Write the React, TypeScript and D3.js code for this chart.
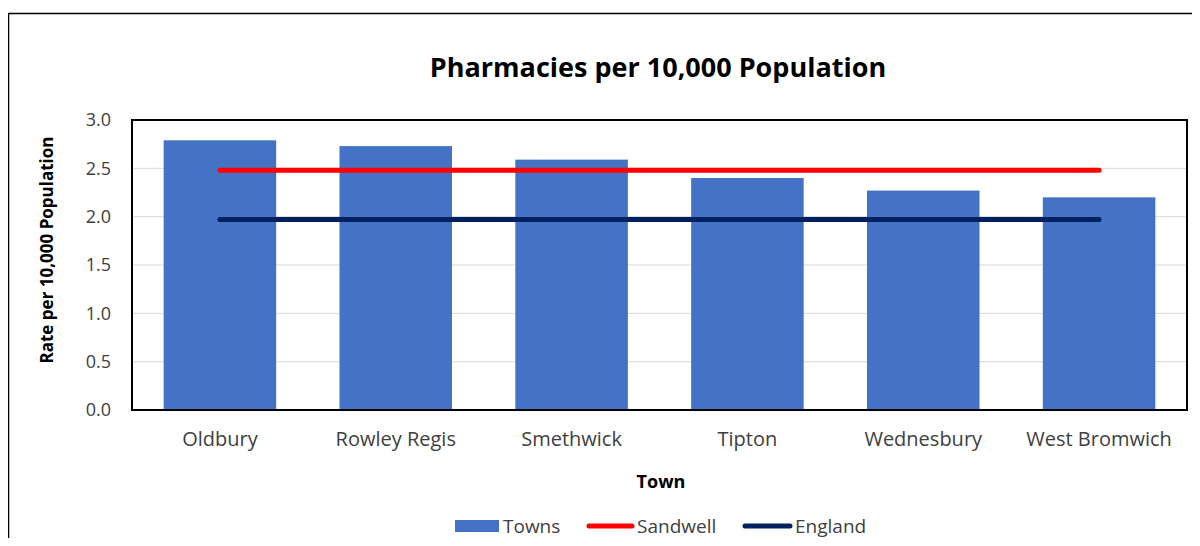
import React, { useRef, useEffect } from "react";
import * as d3 from "d3";

const towns = ["Oldbury", "Rowley Regis", "Smethwick", "Tipton", "Wednesbury", "West Bromwich"];
const townRates = [2.79, 2.73, 2.59, 2.40, 2.27, 2.20];
const sandwellRate = [2.48, 2.48, 2.48, 2.48, 2.48, 2.48];
const englandRate = [1.97, 1.97, 1.97, 1.97, 1.97, 1.97];
const yTicks = [0, 0.5, 1.0, 1.5, 2.0, 2.5, 3.0];

const FONT = "'Open Sans', Lato, sans-serif";

const App = () => {
  const svgRef = useRef<SVGSVGElement>(null);

  useEffect(() => {
    const width = 1200;
    const height = 546;
    const plot = { left: 132, top: 120, right: 1187, bottom: 410 };

    const svg = d3.select(svgRef.current);
    svg.selectAll("*").remove();

    svg.append("rect")
      .attr("x", 0).attr("y", 0)
      .attr("width", width).attr("height", height)
      .attr("fill", "white");

    // outer chart frame
    svg.append("rect")
      .attr("x", 8.5).attr("y", 13.5)
      .attr("width", 1200).attr("height", 560)
      .attr("fill", "none")
      .attr("stroke", "#000")
      .attr("stroke-width", 1.5);

    const xScale = d3.scaleBand()
      .domain(towns)
      .range([plot.left, plot.right])
      .paddingInner(0.36)
      .paddingOuter(0.18);

    const yScale = d3.scaleLinear()
      .domain([0, 3])
      .range([plot.bottom, plot.top]);

    // gridlines
    svg.append("g")
      .selectAll("line")
      .data(yTicks.slice(1, -1))
      .enter()
      .append("line")
      .attr("x1", plot.left)
      .attr("x2", plot.right)
      .attr("y1", d => yScale(d))
      .attr("y2", d => yScale(d))
      .attr("stroke", "#d9d9d9")
      .attr("stroke-width", 1);

    // bars
    svg.append("g")
      .selectAll("rect")
      .data(townRates)
      .enter()
      .append("rect")
      .attr("x", (d, i) => xScale(towns[i]))
      .attr("y", d => yScale(d))
      .attr("width", xScale.bandwidth())
      .attr("height", d => yScale(0) - yScale(d))
      .attr("fill", "#4472c4");

    const cx = (i: number) => xScale(towns[i]) + xScale.bandwidth() / 2;

    const line = d3.line<number>()
      .x((d, i) => cx(i))
      .y(d => yScale(d));

    svg.append("path")
      .datum(sandwellRate)
      .attr("fill", "none")
      .attr("stroke", "#ff0000")
      .attr("stroke-width", 5)
      .attr("stroke-linecap", "round")
      .attr("d", line);

    svg.append("path")
      .datum(englandRate)
      .attr("fill", "none")
      .attr("stroke", "#002060")
      .attr("stroke-width", 5)
      .attr("stroke-linecap", "round")
      .attr("d", line);

    // plot border
    svg.append("rect")
      .attr("x", plot.left)
      .attr("y", plot.top)
      .attr("width", plot.right - plot.left)
      .attr("height", plot.bottom - plot.top)
      .attr("fill", "none")
      .attr("stroke", "#000")
      .attr("stroke-width", 2);

    // y tick labels
    svg.append("g")
      .selectAll("text")
      .data(yTicks)
      .enter()
      .append("text")
      .attr("x", plot.left - 21)
      .attr("y", d => yScale(d))
      .attr("dy", "0.35em")
      .attr("text-anchor", "end")
      .attr("font-family", FONT)
      .attr("font-size", "18px")
      .attr("fill", "#404040")
      .text(d => d.toFixed(1));

    // x tick labels
    svg.append("g")
      .selectAll("text")
      .data(towns)
      .enter()
      .append("text")
      .attr("x", (d, i) => cx(i))
      .attr("y", 446)
      .attr("text-anchor", "middle")
      .attr("font-family", FONT)
      .attr("font-size", "20px")
      .attr("fill", "#404040")
      .text(d => d);

    // title
    svg.append("text")
      .attr("x", 658)
      .attr("y", 77)
      .attr("text-anchor", "middle")
      .attr("font-family", FONT)
      .attr("font-size", "27px")
      .attr("font-weight", "bold")
      .attr("fill", "#000")
      .text("Pharmacies per 10,000 Population");

    // axis titles
    svg.append("text")
      .attr("transform", `translate(53,${(plot.top + plot.bottom) / 2 - 15}) rotate(-90)`)
      .attr("text-anchor", "middle")
      .attr("font-family", FONT)
      .attr("font-size", "17px")
      .attr("font-weight", "bold")
      .attr("fill", "#000")
      .text("Rate per 10,000 Population");

    svg.append("text")
      .attr("x", 661)
      .attr("y", 488)
      .attr("text-anchor", "middle")
      .attr("font-family", FONT)
      .attr("font-size", "18px")
      .attr("font-weight", "bold")
      .attr("fill", "#000")
      .text("Town");

    // legend
    const legendY = 526;
    const lg = svg.append("g").attr("font-family", FONT).attr("font-size", "19px").attr("fill", "#404040");

    lg.append("rect")
      .attr("x", 455).attr("y", legendY - 6)
      .attr("width", 44).attr("height", 12)
      .attr("fill", "#4472c4");
    lg.append("text").attr("x", 503).attr("y", legendY).attr("dy", "0.35em").text("Towns");

    lg.append("line")
      .attr("x1", 589).attr("x2", 632)
      .attr("y1", legendY).attr("y2", legendY)
      .attr("stroke", "#ff0000").attr("stroke-width", 5).attr("stroke-linecap", "round");
    lg.append("text").attr("x", 637).attr("y", legendY).attr("dy", "0.35em").text("Sandwell");

    lg.append("line")
      .attr("x1", 745).attr("x2", 790)
      .attr("y1", legendY).attr("y2", legendY)
      .attr("stroke", "#002060").attr("stroke-width", 5).attr("stroke-linecap", "round");
    lg.append("text").attr("x", 795).attr("y", legendY).attr("dy", "0.35em").text("England");
  }, []);

  return (
    <svg ref={svgRef} width={1200} height={546} style={{ display: "block", margin: "-8px" }} />
  );
};

export default App;
